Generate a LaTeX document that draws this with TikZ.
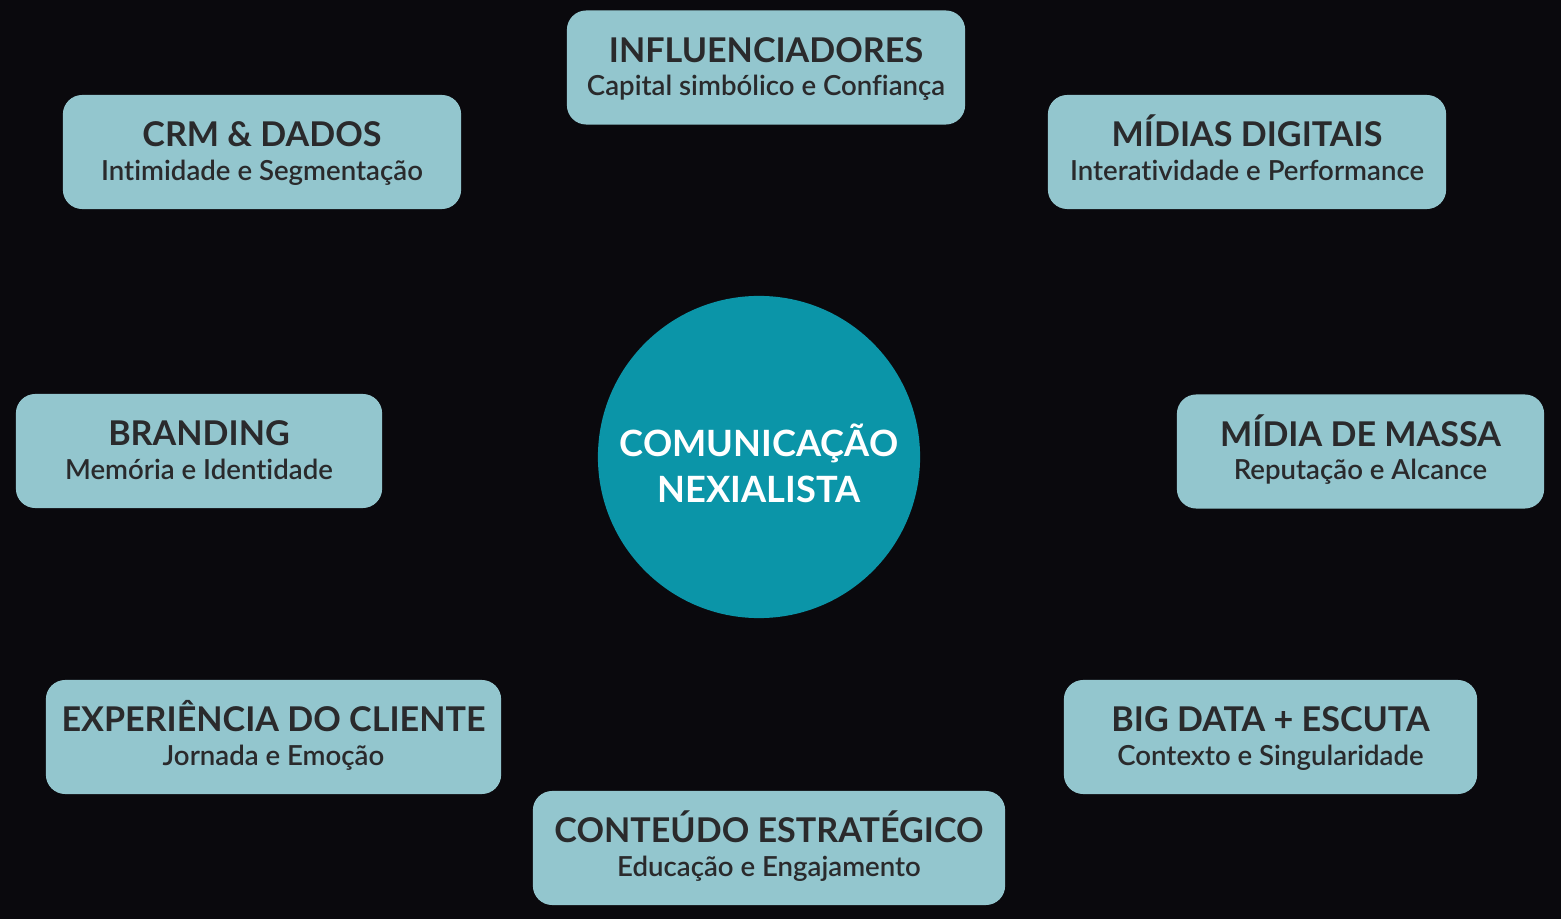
\documentclass[tikz,border=0pt]{standalone}
\usepackage{fontspec}
\setmainfont{Lato}[Ligatures=NoCommon]
\newfontfamily\subfont{Lato Semibold}[Ligatures=NoCommon]
\usepackage{xcolor}
\definecolor{bgdark}{HTML}{0A090D}
\definecolor{boxteal}{HTML}{93C6CE}
\definecolor{coreteal}{HTML}{0B95A8}
\definecolor{inkdark}{HTML}{2A2A2C}
% title + subtitle of a pillar, baselines fixed
\newcommand{\pillar}[2]{\rule{0pt}{6.55pt}\smash{\fontsize{9.7}{9.4}\selectfont\bfseries #1}\\\smash{\fontsize{7.85}{9.4}\subfont #2}}

\begin{document}
\begin{tikzpicture}[x=0.01cm,y=-0.01cm,
  pill/.style={fill=boxteal,rounded corners=5.5pt,minimum height=1.14cm,text=inkdark,align=center,inner sep=0pt,font=\fontsize{7.85}{9.4}\selectfont},
  core/.style={circle,fill=coreteal,minimum size=3.22cm,inner sep=0pt}]
  \fill[bgdark] (0,0) rectangle (1561,919);
  \node[core] (core) at (759,457) {};
  \node[text=white,align=center,inner sep=0pt,font=\fontsize{10.3}{12.8}\selectfont\bfseries] (coretext) at (759,479.5) {\smash{COMUNICAÇÃO}\\\smash{NEXIALISTA}};
  \node[pill,minimum width=3.98cm] (influ) at (766,67.5) {\pillar{INFLUENCIADORES}{Capital simbólico e Confiança}};
  \node[pill,minimum width=3.98cm] (crm) at (262,152) {\pillar{CRM \& DADOS}{Intimidade e Segmentação}};
  \node[pill,minimum width=3.98cm] (digital) at (1247,152) {\pillar{MÍDIAS DIGITAIS}{Interatividade e Performance}};
  \node[pill,minimum width=3.66cm] (brand) at (199,451) {\pillar{BRANDING}{Memória e Identidade}};
  \node[pill,minimum width=3.67cm] (massa) at (1360.5,451.5) {\pillar{MÍDIA DE MASSA}{Reputação e Alcance}};
  \node[pill,minimum width=4.55cm] (cx) at (273.5,737) {\pillar{EXPERIÊNCIA DO CLIENTE}{Jornada e Emoção}};
  \node[pill,minimum width=4.13cm] (bigdata) at (1270.5,737) {\pillar{BIG DATA + ESCUTA}{Contexto e Singularidade}};
  \node[pill,minimum width=4.72cm] (content) at (769,848) {\pillar{CONTEÚDO ESTRATÉGICO}{Educação e Engajamento}};
\end{tikzpicture}
\end{document}
